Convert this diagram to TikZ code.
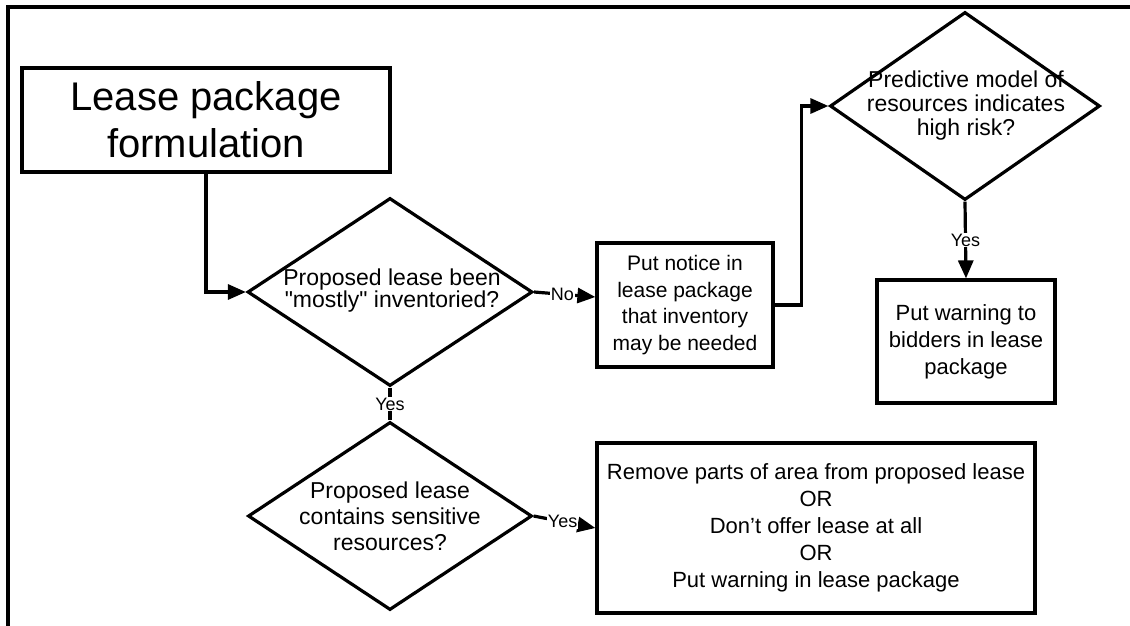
\documentclass[tikz,border=0pt]{standalone}
\usepackage{fontspec}
\setmainfont{Liberation Sans}
\usetikzlibrary{shapes.geometric,arrows.meta,calc}
\begin{document}
\begin{tikzpicture}[x=1pt,y=-1pt,
  thick line/.style={line width=3.2pt},
  boxnode/.style={draw,thick line,rectangle,inner sep=0pt,align=center,font=\fontsize{22}{27}\selectfont},
  dia/.style={draw,thick line,diamond,inner sep=0pt},
  diatext/.style={inner sep=0pt,align=center,font=\fontsize{23}{24}\selectfont},
  conn/.style={thick line},
  arr/.style={thick line,-{Triangle[length=18pt,width=15pt]}},
  lab/.style={fill=white,inner sep=1pt,font=\fontsize{18}{19}\selectfont},
]
\useasboundingbox (0,0) rectangle (1130,626);
% frame
\draw[line width=3.4pt] (8,626) -- (8,7) -- (1130,7);

% start box
\node[boxnode,minimum width=368pt,minimum height=104pt,font=\fontsize{40}{47}\selectfont] (start) at (206,120) {Lease package\\formulation};

% diamond 1
\node[dia,minimum width=285pt,minimum height=188pt] (d1) at (390,292) {};
\node[diatext,font=\fontsize{23}{22}\selectfont] (t1) at (392,291) {Proposed lease been\\\textquotedbl mostly\textquotedbl{} inventoried?};

% notice box
\node[boxnode,minimum width=176pt,minimum height=124pt,font=\fontsize{21}{26.7}\selectfont] (notice) at (685,305) {Put notice in\\lease package\\that inventory\\may be needed};

% diamond 2
\node[dia,minimum width=270pt,minimum height=188pt] (d2) at (965,106) {};
\node[diatext] (t2) at (966,106) {Predictive model of\\resources indicates\\high risk?};

% warning box
\node[boxnode,minimum width=178pt,minimum height=123pt] (warn) at (966,341.5) {Put warning to\\bidders in lease\\package};

% diamond 3
\node[dia,minimum width=284pt,minimum height=188pt] (d3) at (390,516) {};
\node[diatext,font=\fontsize{23}{26}\selectfont] (t3) at (390,516) {Proposed lease\\contains sensitive\\resources?};

% result box
\node[boxnode,minimum width=438pt,minimum height=170pt] (res) at (816,528) {Remove parts of area from proposed lease\\OR\\Don't offer lease at all\\OR\\Put warning in lease package};

% connectors
\draw[arr] (start.south) |- (d1.west);
\draw[arr] (d1.east) -- node[lab,pos=0.46] (lno) {No} ($(notice.west)+(0,-8)$);
\draw[arr] (notice.east) -- ++(27,0) coordinate (bend) |- (d2.west);
\draw[arr] (d2.south) -- node[lab,pos=0.5] (lyes1) {Yes} (warn.north);
\draw[conn] (d1.south) -- node[lab,pos=0.5] (lyes2) {Yes} (d3.north);
\draw[arr] (d3.east) -- node[lab,pos=0.47] (lyes3) {Yes} (res.west);
\end{tikzpicture}
\end{document}
